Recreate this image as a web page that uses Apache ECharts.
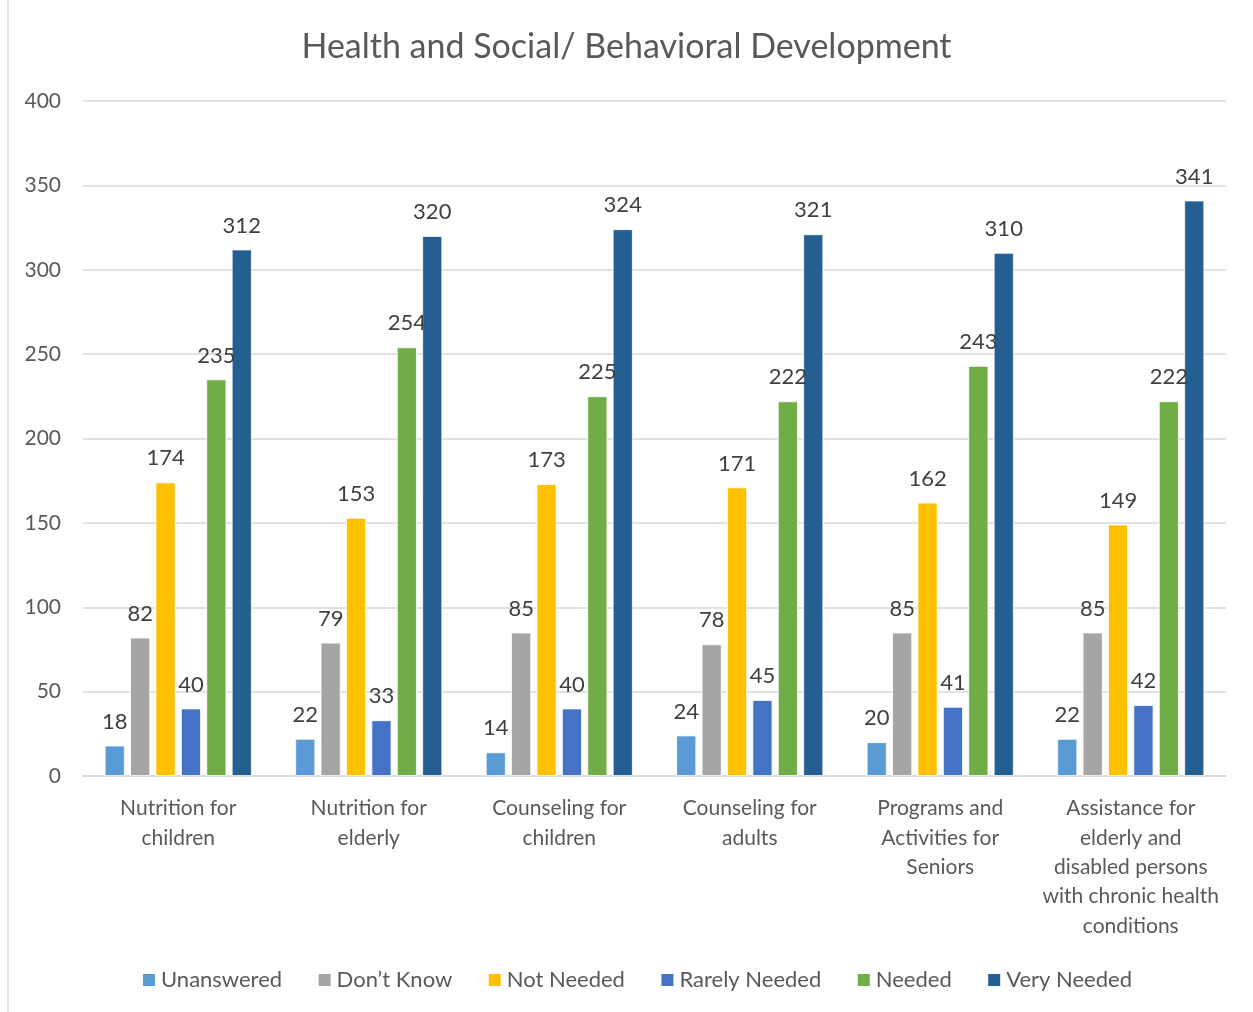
<!DOCTYPE html>
<html><head><meta charset="utf-8">
<script src="https://cdn.jsdelivr.net/npm/echarts@6/dist/echarts.min.js"></script>
<style>html,body{margin:0;padding:0;background:#fff}#c{width:1253px;height:1012px}</style>
</head><body><div id="c"></div>
<script>
const categories = ["Nutrition for\nchildren","Nutrition for\nelderly","Counseling for\nchildren","Counseling for\nadults","Programs and\nActivities for\nSeniors","Assistance for\nelderly and\ndisabled persons\nwith chronic health\nconditions"];
const seriesNames = ["Unanswered","Don’t Know","Not Needed","Rarely Needed","Needed","Very Needed"];
const colors = ["#5B9BD5","#A5A5A5","#FFC000","#4472C4","#70AD47","#255E91"];
const unanswered = [18,22,14,24,20,22];
const dontKnow = [82,79,85,78,85,85];
const notNeeded = [174,153,173,171,162,149];
const rarelyNeeded = [40,33,40,45,41,42];
const needed = [235,254,225,222,243,222];
const veryNeeded = [312,320,324,321,310,341];
const yTicks = {min:0,max:400,interval:50};
const allData = [unanswered,dontKnow,notNeeded,rarelyNeeded,needed,veryNeeded];
const FONT = "Lato, 'Open Sans', sans-serif";
const chart = echarts.init(document.getElementById('c'));
chart.setOption({
  animation:false,
  title:{text:"Health and Social/ Behavioral Development",left:'center',top:25,textStyle:{fontFamily:FONT,fontSize:34,fontWeight:'normal',color:'#595959'}},
  graphic:[{type:'line',shape:{x1:8,y1:0,x2:8,y2:1012},style:{stroke:'#D9D9D9',lineWidth:1.5}}],
  legend:{bottom:16,left:136,itemWidth:14,itemHeight:14,itemGap:34.5,icon:'rect',textStyle:{fontFamily:FONT,fontSize:22,color:'#595959',padding:[0,0,0,0]},data:seriesNames},
  grid:{left:83,right:27,top:101,bottom:236},
  xAxis:{type:'category',data:categories,axisLine:{lineStyle:{color:'#D9D9D9',width:1.5}},axisTick:{show:false},
    axisLabel:{interval:0,fontFamily:FONT,fontSize:21,color:'#595959',lineHeight:29.3,margin:18}},
  yAxis:{type:'value',min:yTicks.min,max:yTicks.max,interval:yTicks.interval,axisLine:{show:false},axisTick:{show:false},
    splitLine:{lineStyle:{color:'#D9D9D9',width:1.5}},axisLabel:{fontFamily:FONT,fontSize:21,color:'#595959',margin:22}},
  series:allData.map((d,i)=>({name:seriesNames[i],type:'bar',data:d,barWidth:20,barGap:'27%',
    itemStyle:{color:colors[i],borderColor:'#fff',borderWidth:0.8},
    label:{show:true,position:'top',distance:13,fontFamily:FONT,fontSize:22,color:'#404040'}}))
});
</script></body></html>
